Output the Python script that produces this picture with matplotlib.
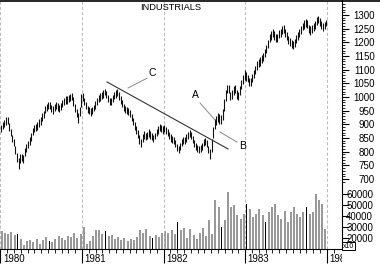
import matplotlib
matplotlib.use("Agg")
import matplotlib.pyplot as plt
from matplotlib.lines import Line2D
from matplotlib.transforms import Bbox, TransformedBbox

plt.rcParams['font.family'] = ['Liberation Sans', 'DejaVu Sans']

# weekly high / low of the index, one list per year (52 weeks each)
hi_1980 = [897, 908, 915, 925, 926, 905, 882, 862, 848, 820, 795, 778, 790, 792, 786, 812, 828, 838, 852, 870,
           888, 898, 900, 908, 918, 925, 940, 948, 968, 975, 980, 982, 972, 966, 975, 982, 978, 970, 978, 990,
           998, 1002, 1003, 1008, 1010, 1015, 1000, 975, 955, 942, 962, 1012]
lo_1980 = [872, 882, 890, 898, 900, 875, 856, 836, 820, 790, 762, 738, 760, 765, 758, 785, 800, 812, 826, 840,
           860, 872, 874, 880, 890, 896, 912, 922, 940, 948, 955, 956, 946, 938, 948, 956, 950, 944, 952, 964,
           970, 976, 975, 980, 984, 990, 968, 945, 925, 905, 930, 962]
hi_1981 = [1015, 998, 983, 968, 962, 958, 963, 972, 984, 998, 1008, 1013, 1018, 1025, 1030, 1022, 1008, 998, 998, 1008,
           1018, 1025, 1030, 1018, 1003, 988, 975, 968, 963, 960, 953, 938, 923, 908, 893, 878, 860, 848, 863, 875,
           868, 873, 882, 875, 868, 862, 870, 883, 893, 900, 898, 893]
lo_1981 = [985, 972, 957, 942, 938, 932, 937, 947, 957, 970, 982, 987, 991, 998, 1006, 996, 982, 972, 972, 982,
           992, 998, 1004, 990, 976, 962, 948, 942, 937, 935, 926, 911, 896, 880, 866, 850, 828, 818, 836, 848,
           842, 846, 854, 848, 842, 837, 845, 856, 866, 874, 871, 866]
hi_1982 = [898, 891, 883, 873, 863, 858, 853, 843, 828, 822, 833, 848, 853, 855, 863, 873, 878, 873, 858, 843,
           833, 825, 821, 825, 833, 845, 851, 843, 822, 808, 845, 890, 920, 932, 942, 937, 935, 955, 992, 1025,
           1045, 1045, 1020, 1025, 1040, 1045, 1025, 1020, 1042, 1062, 1082, 1098]
lo_1982 = [872, 865, 857, 847, 837, 832, 827, 817, 802, 795, 807, 822, 827, 829, 837, 847, 852, 847, 832, 817,
           807, 799, 795, 799, 807, 819, 825, 817, 795, 772, 800, 850, 882, 898, 908, 903, 901, 915, 948, 985,
           1013, 1014, 990, 994, 1008, 1013, 994, 988, 1008, 1028, 1048, 1062]
hi_1983 = [1090, 1082, 1070, 1070, 1085, 1100, 1115, 1130, 1140, 1145, 1153, 1160, 1175, 1190, 1210, 1230, 1240, 1250, 1240, 1230,
           1230, 1245, 1250, 1260, 1262, 1250, 1237, 1225, 1215, 1210, 1205, 1213, 1227, 1237, 1250, 1260, 1272, 1280, 1284, 1282,
           1265, 1258, 1262, 1270, 1277, 1293, 1298, 1290, 1277, 1270, 1276, 1282]
lo_1983 = [1060, 1054, 1040, 1040, 1055, 1070, 1085, 1100, 1110, 1115, 1123, 1130, 1145, 1160, 1180, 1200, 1210, 1220, 1210, 1200,
           1200, 1215, 1220, 1230, 1234, 1220, 1207, 1195, 1185, 1180, 1175, 1183, 1197, 1207, 1220, 1230, 1244, 1250, 1256, 1254,
           1235, 1228, 1234, 1240, 1247, 1265, 1270, 1260, 1247, 1240, 1248, 1258]

# two-week volume (axis units, shown "x10"), 26 bars a year
vol_1980 = [26000, 25000, 24000, 25500, 23000, 24000, 19000, 14000, 17000, 18000, 16000, 19000, 15000,
            18000, 21000, 17000, 16000, 19000, 22000, 20000, 18000, 22000, 21000, 25000, 20000, 24000]
vol_1981 = [30000, 15000, 17000, 22000, 27000, 27500, 24000, 26000, 22000, 23000, 19000, 21000, 18000,
            20000, 17000, 19000, 18000, 21000, 27000, 25000, 28000, 22000, 20000, 23000, 21000, 25000]
vol_1982 = [26000, 25000, 27000, 24000, 35000, 27000, 29000, 20000, 28000, 23000, 19000, 25000, 29000,
            22000, 36000, 24000, 55000, 48000, 30000, 36000, 62000, 48000, 50000, 41000, 37000, 42000]
vol_1983 = [51000, 46000, 39000, 42000, 46000, 41000, 35000, 44000, 48000, 51000, 41000, 37000, 45000,
            35000, 44000, 48000, 42000, 39000, 44000, 48000, 42000, 44000, 60000, 55000, 51000, 28000]
vol_dark = [5, 15, 33, 48, 56, 70, 78, 84, 97]

years = [1980, 1981, 1982, 1983, 1984]
year_labels = ["1980", "1981", "1982", "1983", "1984"]
price_ticks = list(range(700, 1301, 50))
vol_ticks = [20000, 30000, 40000, 50000, 60000]

hi = hi_1980 + hi_1981 + hi_1982 + hi_1983
lo = lo_1980 + lo_1981 + lo_1982 + lo_1983
vol = vol_1980 + vol_1981 + vol_1982 + vol_1983
wk_x = [1980 + (i + 0.5) / 52 for i in range(len(hi))]
vol_x = [1980 + (j + 0.5) / 26 for j in range(len(vol))]

# figure geometry (pixels)
W, H = 380, 264
px_year = 81.6
x0 = 1980 - 0.5 / px_year
x1 = x0 + 342 / px_year

fig = plt.figure(figsize=(W / 100, H / 100), dpi=100)
rect = [0, 15 / H, 342 / W, 249 / H]
ax = fig.add_axes(rect)
axv = fig.add_axes(rect, sharex=ax)
axv.patch.set_visible(False)
ax.set_zorder(axv.get_zorder() + 1)
ax.patch.set_visible(False)

ax.set_xlim(x0, x1)
ax.set_ylim(443.8, 1354.9)
axv.set_ylim(10000, 236400)

# year grid
for yr in years:
    ax.axvline(yr, color='#bcbcbc', lw=0.75, ls=(0, (3, 2)), zorder=0)

# volume
vcol = ['black' if j in vol_dark else '#999999' for j in range(len(vol))]
vw = [0.8 / px_year if j in vol_dark else 2 / px_year for j in range(len(vol))]
axv.bar(vol_x, [v - 10000 for v in vol], bottom=10000, width=vw, color=vcol, linewidth=0)

# price bars
ax.vlines(wk_x, lo, hi, color='#111111', lw=0.8)

# trend line and labels
ax.plot([1981.305, 1982.788], [1055, 810], color='#333333', lw=0.8)
ax.plot([1981.563, 1981.797], [1033, 1069], color='#888888', lw=0.7)
ax.plot([1982.445, 1982.629], [978, 916], color='#888888', lw=0.7)
ax.plot([1982.690, 1982.898], [872, 835], color='#888888', lw=0.7)
ax.text(1981.857, 1088, "C", fontsize=7.5, ha='center', va='center')
ax.text(1982.386, 1007, "A", fontsize=7.5, ha='center', va='center')
ax.text(1982.972, 821, "B", fontsize=7.5, ha='center', va='center')
ax.text(0.5, 0.968, "INDUSTRIALS", transform=ax.transAxes, fontsize=6.7, ha='center', va='center')

# spines
for sp in ['left', 'top']:
    ax.spines[sp].set_visible(False)
for sp in axv.spines.values():
    sp.set_visible(False)
ax.spines['bottom'].set_linewidth(0.8)
ax.spines['right'].set_linewidth(0.8)

# price axis on the right
ax.yaxis.tick_right()
ax.set_yticks(price_ticks)
ax.set_yticks([v for v in range(690, 1351, 10) if v % 50 != 0], minor=True)
ax.tick_params(axis='y', which='major', length=5, width=0.8, pad=18.8, labelsize=7)
ax.tick_params(axis='y', which='minor', length=2.2, width=0.6)
for lab in ax.get_yticklabels():
    lab.set_ha('right')

# volume axis on the right
axv.yaxis.tick_right()
axv.set_yticks(vol_ticks)
axv.tick_params(axis='y', which='major', length=5, width=0.8, pad=17.4, labelsize=7)
for lab in axv.get_yticklabels():
    lab.set_ha('right')
axv.tick_params(axis='x', which='both', bottom=False, labelbottom=False)

# x axis: long year ticks, short month ticks
ax.set_xticks(years)
ax.set_xticks([y + m / 12 for y in years[:-1] for m in range(1, 12)] + [1984 + 1 / 12], minor=True)
ax.tick_params(axis='x', which='major', length=10, width=0.8, labelbottom=False)
ax.tick_params(axis='x', which='minor', length=3, width=0.6)

clip = TransformedBbox(Bbox([[0, 0], [342 / W, 1]]), fig.transFigure)
for yr, lab in zip(years, year_labels):
    t = ax.text(yr + 2.5 / px_year, -9.5 / 249, lab, transform=ax.get_xaxis_transform(),
                fontsize=7, ha='left', va='center')
    t.set_clip_box(clip)
    t.set_clip_on(True)

fig.text(343 / W, 18 / H, "x10", fontsize=5, ha='left', va='center',
         bbox=dict(boxstyle='square,pad=0.1', fc='white', ec='black', lw=0.7))
fig.add_artist(Line2D([0, 1], [1 - 0.6 / H, 1 - 0.6 / H], color='black', lw=1.2, transform=fig.transFigure))

fig.savefig("out.png", dpi=100)
